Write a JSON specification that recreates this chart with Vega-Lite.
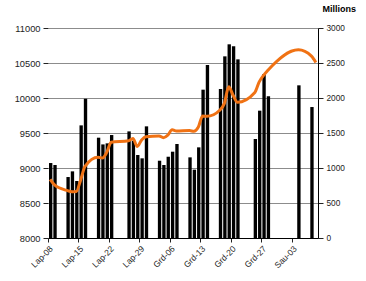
{
  "$schema": "https://vega.github.io/schema/vega-lite/v6.json",
  "width": 270,
  "height": 210,
  "autosize": {"type": "none"},
  "padding": {"left": 48, "top": 28, "right": 48, "bottom": 43},
  "title": {"text": "NIKKEI 225 INDEX", "anchor": "start", "frame": "bounds", "fontSize": 13, "font": "Liberation Sans", "fontWeight": "bold", "color": "#000000", "offset": 1},
  "config": {
    "view": {"stroke": null},
    "font": "Liberation Sans",
    "axis": {"labelFont": "Liberation Sans", "titleFont": "Liberation Sans", "labelColor": "#222222", "tickColor": "#222222", "domainColor": "#000000"},
    "axisX": {"labelOverlap": false, "labelFlush": false}
  },
  "data": {
    "values": [
      {"date": "2012-11-08", "index": 8837, "volume": 1071},
      {"date": "2012-11-09", "index": 8758, "volume": 1043},
      {"date": "2012-11-12", "index": 8676, "volume": 871},
      {"date": "2012-11-13", "index": 8661, "volume": 952},
      {"date": "2012-11-14", "index": 8665, "volume": 814},
      {"date": "2012-11-15", "index": 8830, "volume": 1609},
      {"date": "2012-11-16", "index": 9024, "volume": 1990},
      {"date": "2012-11-19", "index": 9153, "volume": 1433},
      {"date": "2012-11-20", "index": 9143, "volume": 1337},
      {"date": "2012-11-21", "index": 9223, "volume": 1352},
      {"date": "2012-11-22", "index": 9367, "volume": 1471},
      {"date": "2012-11-26", "index": 9389, "volume": 1523},
      {"date": "2012-11-27", "index": 9423, "volume": 1390},
      {"date": "2012-11-28", "index": 9308, "volume": 1186},
      {"date": "2012-11-29", "index": 9401, "volume": 1138},
      {"date": "2012-11-30", "index": 9446, "volume": 1595},
      {"date": "2012-12-03", "index": 9458, "volume": 1104},
      {"date": "2012-12-04", "index": 9432, "volume": 1043},
      {"date": "2012-12-05", "index": 9469, "volume": 1161},
      {"date": "2012-12-06", "index": 9545, "volume": 1233},
      {"date": "2012-12-07", "index": 9527, "volume": 1343},
      {"date": "2012-12-10", "index": 9534, "volume": 1152},
      {"date": "2012-12-11", "index": 9525, "volume": 976},
      {"date": "2012-12-12", "index": 9581, "volume": 1295},
      {"date": "2012-12-13", "index": 9743, "volume": 2119},
      {"date": "2012-12-14", "index": 9738, "volume": 2471},
      {"date": "2012-12-17", "index": 9829, "volume": 2128},
      {"date": "2012-12-18", "index": 9923, "volume": 2595},
      {"date": "2012-12-19", "index": 10160, "volume": 2767},
      {"date": "2012-12-20", "index": 10039, "volume": 2738},
      {"date": "2012-12-21", "index": 9940, "volume": 2552},
      {"date": "2012-12-25", "index": 10080, "volume": 1414},
      {"date": "2012-12-26", "index": 10230, "volume": 1819},
      {"date": "2012-12-27", "index": 10323, "volume": 2343},
      {"date": "2012-12-28", "index": 10395, "volume": 2024},
      {"date": "2013-01-04", "index": 10688, "volume": 2181},
      {"date": "2013-01-07", "index": 10599, "volume": 1871},
      {"date": "2013-01-08", "index": 10508, "volume": null}
    ]
  },
  "layer": [
    {
      "mark": {"type": "bar", "color": "#000000", "timeUnitBandSize": 0.6, "timeUnitBandPosition": 0.5},
      "encoding": {
        "x": {
          "field": "date", "type": "temporal", "timeUnit": "utcyearmonthdate",
          "scale": {"type": "utc", "domain": [{"year": 2012, "month": 11, "date": 8, "utc": true}, {"year": 2013, "month": 1, "date": 9, "utc": true}]},
          "axis": {
            "title": null, "grid": false, "labelAngle": -45, "labelFontSize": 8.5, "tickSize": 4, "labelPadding": 2, "labelOverlap": false, "labelFlush": false,
            "values": [
              {"year": 2012, "month": 11, "date": 8, "utc": true},
              {"year": 2012, "month": 11, "date": 15, "utc": true},
              {"year": 2012, "month": 11, "date": 22, "utc": true},
              {"year": 2012, "month": 11, "date": 29, "utc": true},
              {"year": 2012, "month": 12, "date": 6, "utc": true},
              {"year": 2012, "month": 12, "date": 13, "utc": true},
              {"year": 2012, "month": 12, "date": 20, "utc": true},
              {"year": 2012, "month": 12, "date": 27, "utc": true},
              {"year": 2013, "month": 1, "date": 3, "utc": true}
            ],
            "labelExpr": "['Sau','Vas','Kov','Bal','Geg','Bir','Lie','Rgp','Rgs','Spa','Lap','Grd'][utcmonth(datum.value)] + '-' + utcFormat(datum.value, '%d')"
          }
        },
        "y": {
          "field": "volume", "type": "quantitative",
          "scale": {"domain": [0, 3000], "nice": false},
          "axis": {
            "orient": "right", "values": [0, 500, 1000, 1500, 2000, 2500, 3000], "format": "d", "grid": false, "domain": true, "tickSize": 5, "labelFontSize": 8.3, "labelPadding": 3,
            "title": "Millions", "titleAngle": 0, "titleFontWeight": "bold", "titleFontSize": 9, "titleAlign": "left", "titleBaseline": "alphabetic", "titleX": 4, "titleY": -17, "titleColor": "#000000"
          }
        }
      }
    },
    {
      "mark": {"type": "line", "color": "#F07214", "strokeWidth": 3, "interpolate": "monotone"},
      "encoding": {
        "x": {
          "field": "date", "type": "temporal", "timeUnit": "utcyearmonthdate", "bandPosition": 0.5,
          "scale": {"type": "utc", "domain": [{"year": 2012, "month": 11, "date": 8, "utc": true}, {"year": 2013, "month": 1, "date": 9, "utc": true}]},
          "axis": {
            "title": null, "grid": false, "labelAngle": -45, "labelFontSize": 8.5, "tickSize": 4, "labelPadding": 2, "labelOverlap": false, "labelFlush": false,
            "values": [
              {"year": 2012, "month": 11, "date": 8, "utc": true},
              {"year": 2012, "month": 11, "date": 15, "utc": true},
              {"year": 2012, "month": 11, "date": 22, "utc": true},
              {"year": 2012, "month": 11, "date": 29, "utc": true},
              {"year": 2012, "month": 12, "date": 6, "utc": true},
              {"year": 2012, "month": 12, "date": 13, "utc": true},
              {"year": 2012, "month": 12, "date": 20, "utc": true},
              {"year": 2012, "month": 12, "date": 27, "utc": true},
              {"year": 2013, "month": 1, "date": 3, "utc": true}
            ],
            "labelExpr": "['Sau','Vas','Kov','Bal','Geg','Bir','Lie','Rgp','Rgs','Spa','Lap','Grd'][utcmonth(datum.value)] + '-' + utcFormat(datum.value, '%d')"
          }
        },
        "y": {
          "field": "index", "type": "quantitative",
          "scale": {"domain": [8000, 11000], "nice": false, "zero": false},
          "axis": {
            "orient": "left", "values": [8000, 8500, 9000, 9500, 10000, 10500, 11000], "format": "d", "grid": true, "gridColor": "#8c8c8c", "domain": false, "tickSize": 5, "labelFontSize": 9.3, "labelPadding": 3, "title": null
          }
        }
      }
    }
  ],
  "resolve": {"scale": {"y": "independent"}}
}
